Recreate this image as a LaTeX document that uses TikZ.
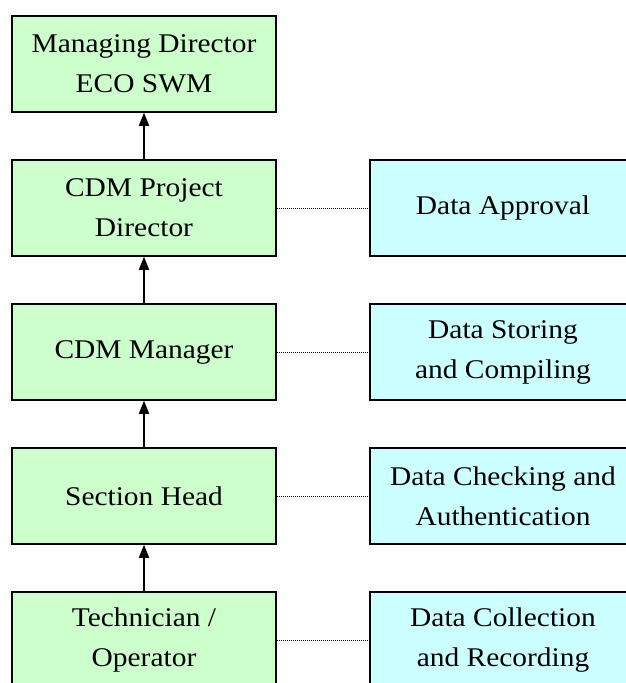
\documentclass[tikz,border=0pt]{standalone}
\usepackage{fontspec}
\setmainfont{Liberation Serif}[FakeStretch=1.09]
\usetikzlibrary{arrows.meta}
\definecolor{boxgreen}{HTML}{CCFFCC}
\definecolor{boxcyan}{HTML}{CCFFFF}
\tikzset{
  rolebox/.style={draw=black, line width=1.5pt, fill=boxgreen, minimum width=264pt, minimum height=96pt, align=center, inner sep=0pt, font=\fontsize{27}{40}\selectfont},
  taskbox/.style={rolebox, fill=boxcyan, minimum width=266pt},
  uparrow/.style={line width=1.8pt, -{Triangle[length=13pt,width=10pt]}},
  dotline/.style={line width=0.8pt, dash pattern=on 0.9pt off 1.1pt}
}
\begin{document}
\begin{tikzpicture}[x=1pt,y=-1pt]
\useasboundingbox (0,0) rectangle (625,683);
\node[rolebox] (md) at (144,64) {Managing Director\\ECO SWM};
\node[rolebox] (pd) at (144,208) {CDM Project\\Director};
\node[rolebox] (cm) at (144,352) {CDM Manager};
\node[rolebox] (sh) at (144,496) {Section Head};
\node[rolebox] (to) at (144,640) {Technician /\\Operator};
\node[taskbox] (da) at (503,208) {Data Approval};
\node[taskbox] (ds) at (503,352) {Data Storing\\and Compiling};
\node[taskbox] (dc) at (503,496) {Data Checking and\\Authentication};
\node[taskbox] (dr) at (503,640) {Data Collection\\and Recording};
\draw[uparrow] (pd.north) -- (md.south);
\draw[uparrow] (cm.north) -- (pd.south);
\draw[uparrow] (sh.north) -- (cm.south);
\draw[uparrow] (to.north) -- (sh.south);
\draw[dotline] (pd.east) -- (da.west);
\draw[dotline] (cm.east) -- (ds.west);
\draw[dotline] (sh.east) -- (dc.west);
\draw[dotline] (to.east) -- (dr.west);
\end{tikzpicture}
\end{document}
